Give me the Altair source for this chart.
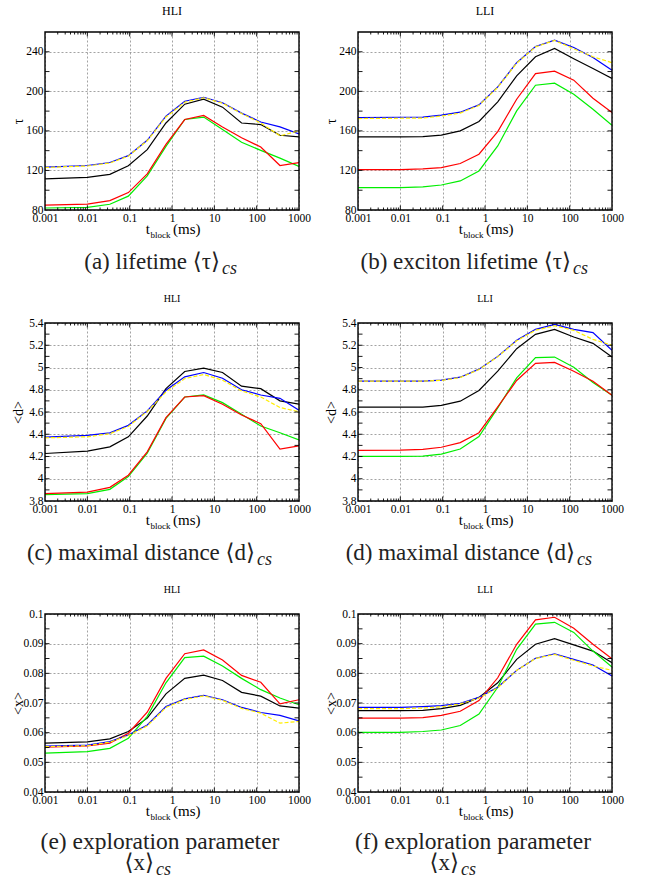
import altair as alt
import pandas as pd

FONT = "'Liberation Serif', 'Times New Roman', 'DejaVu Serif', serif"

# ---------------- data ----------------
T_BLOCK = [0.001, 0.01, 0.034, 0.093, 0.26, 0.72, 2.0, 5.6, 15.6, 44, 125, 355, 1000]

X_MAJOR = [0.001, 0.01, 0.1, 1, 10, 100, 1000]
X_MINOR = [m * 10.0 ** k for k in range(-3, 3) for m in range(2, 10)]

TAU_MAJOR = [80, 120, 160, 200, 240]
TAU_MINOR = [100, 140, 180, 220]
D_MAJOR = [3.8, 4.0, 4.2, 4.4, 4.6, 4.8, 5.0, 5.2, 5.4]
D_MINOR = [3.9, 4.1, 4.3, 4.5, 4.7, 4.9, 5.1, 5.3]
X_VAL_MAJOR = [0.04, 0.05, 0.06, 0.07, 0.08, 0.09, 0.1]
X_VAL_MINOR = [0.045, 0.055, 0.065, 0.075, 0.085, 0.095]

# (a) HLI lifetime
A_BLUE = [123.4, 125, 128, 135, 150.5, 175, 190, 194, 188.5, 178, 169, 164, 157]
A_YELLOW = [123, 124.5, 127.5, 134.5, 150, 174, 189, 193.5, 188, 177.6, 168, 155, 160]
A_BLACK = [111.5, 113, 116, 124.7, 141, 168, 187, 192, 184, 168, 166.4, 155.6, 154]
A_RED = [85, 86, 89.5, 97.6, 116.6, 146.4, 171.5, 175.6, 164, 153, 143.7, 125, 128]
A_GREEN = [82, 82.7, 85.8, 94, 114.6, 144.4, 171.5, 174, 161.4, 148.5, 140.3, 132.5, 124]

# (b) LLI lifetime
B_BLUE = [173.5, 173.8, 174, 175.9, 178.9, 186.3, 204.5, 228.9, 245.4, 251.8, 244.4, 234.2, 221.4]
B_YELLOW = [172.5, 172.8, 173, 175, 178, 185.8, 204, 228.5, 245, 251.5, 243, 235, 229]
B_BLACK = [153.9, 154, 154.2, 155.7, 160, 169.5, 189.4, 215.7, 235, 243.4, 233, 223, 213]
B_RED = [120.9, 120.9, 121.5, 122.9, 127, 136.4, 159.3, 192, 218, 220.4, 211.3, 193, 178.6]
B_GREEN = [102.6, 102.6, 103.3, 105.3, 109.4, 119.5, 144.8, 180.2, 206.2, 208.2, 197.1, 181.9, 165.7]

# (c) HLI maximal distance
C_BLUE = [4.374, 4.39, 4.413, 4.48, 4.61, 4.795, 4.916, 4.955, 4.904, 4.80, 4.753, 4.723, 4.615]
C_YELLOW = [4.368, 4.377, 4.405, 4.47, 4.605, 4.78, 4.90, 4.937, 4.886, 4.79, 4.735, 4.64, 4.603]
C_BLACK = [4.227, 4.248, 4.287, 4.377, 4.564, 4.81, 4.964, 4.994, 4.955, 4.832, 4.81, 4.70, 4.67]
C_RED = [3.866, 3.88, 3.923, 4.032, 4.242, 4.549, 4.735, 4.747, 4.67, 4.573, 4.495, 4.266, 4.296]
C_GREEN = [3.857, 3.866, 3.905, 4.02, 4.23, 4.543, 4.735, 4.753, 4.684, 4.58, 4.474, 4.414, 4.35]

# (d) LLI maximal distance
D_BLUE = [4.877, 4.877, 4.877, 4.886, 4.913, 4.985, 5.1, 5.244, 5.343, 5.388, 5.343, 5.313, 5.154]
D_YELLOW = [4.877, 4.877, 4.877, 4.884, 4.91, 4.982, 5.097, 5.24, 5.335, 5.375, 5.334, 5.253, 5.2]
D_BLACK = [4.643, 4.643, 4.643, 4.66, 4.697, 4.793, 4.967, 5.169, 5.298, 5.343, 5.274, 5.217, 5.094]
D_RED = [4.255, 4.257, 4.264, 4.283, 4.325, 4.414, 4.646, 4.883, 5.037, 5.046, 4.967, 4.877, 4.751]
D_GREEN = [4.201, 4.201, 4.204, 4.222, 4.267, 4.379, 4.637, 4.907, 5.088, 5.094, 5.003, 4.865, 4.751]

# (e) HLI exploration parameter
E_BLUE = [0.0555, 0.0558, 0.057, 0.0592, 0.0626, 0.0688, 0.0714, 0.0726, 0.0711, 0.0685, 0.0668, 0.0658, 0.064]
E_YELLOW = [0.0553, 0.0556, 0.0568, 0.059, 0.0623, 0.0685, 0.0712, 0.0724, 0.0709, 0.0682, 0.0666, 0.0632, 0.0638]
E_BLACK = [0.0565, 0.0569, 0.0579, 0.0604, 0.0649, 0.0731, 0.0783, 0.0794, 0.0776, 0.0736, 0.0723, 0.069, 0.0683]
E_RED = [0.0551, 0.0555, 0.0565, 0.0598, 0.0669, 0.0783, 0.0866, 0.0879, 0.0845, 0.0793, 0.077, 0.0697, 0.0711]
E_GREEN = [0.0531, 0.0536, 0.0547, 0.0581, 0.0655, 0.0768, 0.0853, 0.0858, 0.0825, 0.0783, 0.0745, 0.0717, 0.0694]

# (f) LLI exploration parameter
F_BLUE = [0.0685, 0.0685, 0.0688, 0.0691, 0.0699, 0.0719, 0.0753, 0.081, 0.0851, 0.0866, 0.0847, 0.0828, 0.0791]
F_YELLOW = [0.0681, 0.0681, 0.0683, 0.0687, 0.0697, 0.0717, 0.0751, 0.081, 0.085, 0.0864, 0.0844, 0.0825, 0.081]
F_BLACK = [0.0674, 0.0674, 0.0675, 0.0681, 0.0692, 0.0719, 0.0768, 0.0847, 0.0898, 0.0917, 0.0896, 0.0875, 0.0836]
F_RED = [0.0649, 0.0649, 0.0651, 0.0658, 0.0672, 0.0708, 0.0785, 0.0898, 0.098, 0.0989, 0.0952, 0.0898, 0.0849]
F_GREEN = [0.0601, 0.0601, 0.0604, 0.0609, 0.0624, 0.0663, 0.0753, 0.0881, 0.0966, 0.0972, 0.0938, 0.0875, 0.0821]

PANEL_TITLES = ["HLI", "LLI", "HLI", "LLI", "HLI", "LLI"]
Y_TITLES = ["τ", "τ", "<d>", "<d>", "<x>", "<x>"]
CAPTIONS = [
    ["(a) lifetime ⟨τ⟩"],
    ["(b) exciton lifetime ⟨τ⟩"],
    ["(c) maximal distance ⟨d⟩"],
    ["(d) maximal distance ⟨d⟩"],
    ["(e) exploration parameter", "⟨x⟩"],
    ["(f) exploration parameter", "⟨x⟩"],
]
CAP_SUB = "cs"
XLAB = ["t", "block", "(ms)"]

COLORS = {"black": "#000000", "green": "#00ee00", "red": "#ff0000",
          "blue": "#0000ff", "yellow": "#ffee00"}

W, H = 254, 178


def panel(idx, title_size, ydomain, ymajor, yminor, yfmt, series, cap_x):
    xs = alt.Scale(type="log", domain=[0.001, 1000], nice=False)
    ys = alt.Scale(domain=ydomain, nice=False, zero=False)
    xaxis = alt.Axis(values=X_MAJOR, format="~g", labelFlush=False, labelOverlap=False,
                     ticks=False, domain=False, grid=True, gridColor="#8c8c8c",
                     gridDash=[2, 2], gridWidth=0.8, labelFont=FONT, labelFontSize=11.5,
                     labelColor="black", labelPadding=2, title=None)
    yaxis = alt.Axis(values=ymajor, format=yfmt, labelFlush=False, labelOverlap=False,
                     ticks=False, domain=False, grid=True, gridColor="#8c8c8c",
                     gridDash=[2, 2], gridWidth=0.8, labelFont=FONT, labelFontSize=11.5,
                     labelColor="black", labelPadding=2, title=Y_TITLES[idx],
                     titleFont=FONT, titleFontSize=14, titleFontWeight="normal",
                     titleColor="black", titleX=-27, titleY=H / 2,
                     titleBaseline="middle", titleAlign="center", titleAngle=270)

    def X(f="t"):
        return alt.X(f"{f}:Q", scale=xs, axis=xaxis)

    def Y(f="v"):
        return alt.Y(f"{f}:Q", scale=ys, axis=yaxis)

    layers = []
    for name, vals in series:
        df = pd.DataFrame({"t": T_BLOCK, "v": vals})
        mk = dict(color=COLORS[name], strokeWidth=1.2, clip=True)
        if name == "yellow":
            mk["strokeDash"] = [4, 2]
        layers.append(alt.Chart(df).mark_line(**mk).encode(x=X(), y=Y()))

    # inward ticks on all four sides
    inner_major = [v for v in X_MAJOR[1:-1]]
    for vals, ln in [(inner_major, 4.5), (X_MINOR, 2.5)]:
        d = pd.DataFrame({"t": vals})
        layers.append(alt.Chart(d).mark_rule(color="black", strokeWidth=0.9).encode(
            x=X(), y=alt.value(H), y2=alt.value(H - ln)))
        layers.append(alt.Chart(d).mark_rule(color="black", strokeWidth=0.9).encode(
            x=X(), y=alt.value(0), y2=alt.value(ln)))
    ymaj_inner = [v for v in ymajor if ydomain[0] < v < ydomain[1]]
    for vals, ln in [(ymaj_inner, 4.5), (yminor, 4.5)]:
        d = pd.DataFrame({"v": vals})
        layers.append(alt.Chart(d).mark_rule(color="black", strokeWidth=0.9).encode(
            y=Y(), x=alt.value(0), x2=alt.value(ln)))
        layers.append(alt.Chart(d).mark_rule(color="black", strokeWidth=0.9).encode(
            y=Y(), x=alt.value(W), x2=alt.value(W - ln)))

    # frame
    layers.append(alt.Chart(pd.DataFrame({"k": [0]})).mark_rect(
        filled=False, stroke="black", strokeWidth=1.4).encode(
        x=alt.value(0), x2=alt.value(W), y=alt.value(0), y2=alt.value(H)))

    # x-axis title with subscript
    cx = W / 2
    layers.append(alt.Chart(pd.DataFrame({"s": [XLAB[0]]})).mark_text(
        font=FONT, fontSize=15, align="right", baseline="alphabetic", color="black").encode(
        text="s:N", x=alt.value(cx - 22), y=alt.value(H + 24)))
    layers.append(alt.Chart(pd.DataFrame({"s": [XLAB[1]]})).mark_text(
        font=FONT, fontSize=9, align="left", baseline="alphabetic", color="black").encode(
        text="s:N", x=alt.value(cx - 21.5), y=alt.value(H + 28)))
    layers.append(alt.Chart(pd.DataFrame({"s": [XLAB[2]]})).mark_text(
        font=FONT, fontSize=15, align="left", baseline="alphabetic", color="black").encode(
        text="s:N", x=alt.value(cx + 1), y=alt.value(H + 24)))

    # caption
    cap = CAPTIONS[idx]
    if len(cap) == 1:
        main_y = H + 59
        layers.append(alt.Chart(pd.DataFrame({"s": [cap[0]]})).mark_text(
            font=FONT, fontSize=23, align="right", baseline="alphabetic", color="#222").encode(
            text="s:N", x=alt.value(cap_x), y=alt.value(main_y)))
    else:
        layers.append(alt.Chart(pd.DataFrame({"s": [cap[0]]})).mark_text(
            font=FONT, fontSize=23.5, align="center", baseline="alphabetic", color="#222").encode(
            text="s:N", x=alt.value(115), y=alt.value(H + 57)))
        main_y = H + 78
        layers.append(alt.Chart(pd.DataFrame({"s": [cap[1]]})).mark_text(
            font=FONT, fontSize=23, align="right", baseline="alphabetic", color="#222").encode(
            text="s:N", x=alt.value(cap_x), y=alt.value(main_y)))
    layers.append(alt.Chart(pd.DataFrame({"s": [CAP_SUB]})).mark_text(
        font=FONT, fontSize=18, fontStyle="italic", align="left", baseline="alphabetic",
        color="#222").encode(text="s:N", x=alt.value(cap_x + 2), y=alt.value(main_y + 5)))

    return alt.layer(*layers).properties(
        width=W, height=H,
        title=alt.Title(PANEL_TITLES[idx], font=FONT, fontSize=title_size,
                        fontWeight="normal", color="black", anchor="middle",
                        frame="group", offset=13),
    )


ORDER = ["black", "green", "red", "blue", "yellow"]


def ser(bl, ye, bk, rd, gr):
    d = {"blue": bl, "yellow": ye, "black": bk, "red": rd, "green": gr}
    return [(k, d[k]) for k in ORDER]


pa = panel(0, 12, [80, 260], TAU_MAJOR, TAU_MINOR, "d", ser(A_BLUE, A_YELLOW, A_BLACK, A_RED, A_GREEN), 175)
pb = panel(1, 12, [80, 260], TAU_MAJOR, TAU_MINOR, "d", ser(B_BLUE, B_YELLOW, B_BLACK, B_RED, B_GREEN), 213)
pc = panel(2, 10, [3.8, 5.4], D_MAJOR, D_MINOR, "~g", ser(C_BLUE, C_YELLOW, C_BLACK, C_RED, C_GREEN), 210)
pd_ = panel(3, 10, [3.8, 5.4], D_MAJOR, D_MINOR, "~g", ser(D_BLUE, D_YELLOW, D_BLACK, D_RED, D_GREEN), 217)
pe = panel(4, 10, [0.04, 0.1], X_VAL_MAJOR, X_VAL_MINOR, "~g", ser(E_BLUE, E_YELLOW, E_BLACK, E_RED, E_GREEN), 109)
pf = panel(5, 10, [0.04, 0.1], X_VAL_MAJOR, X_VAL_MINOR, "~g", ser(F_BLUE, F_YELLOW, F_BLACK, F_RED, F_GREEN), 101)

chart = alt.concat(pa, pb, pc, pd_, pe, pf, columns=2,
                   spacing={"row": 113, "column": 59}, bounds="flush").properties(
    padding={"left": 11, "top": 5, "right": 4, "bottom": 4},
    background="white",
).configure_view(strokeWidth=0)

chart.save("out.html", embed_options={"renderer": "svg", "actions": False})
